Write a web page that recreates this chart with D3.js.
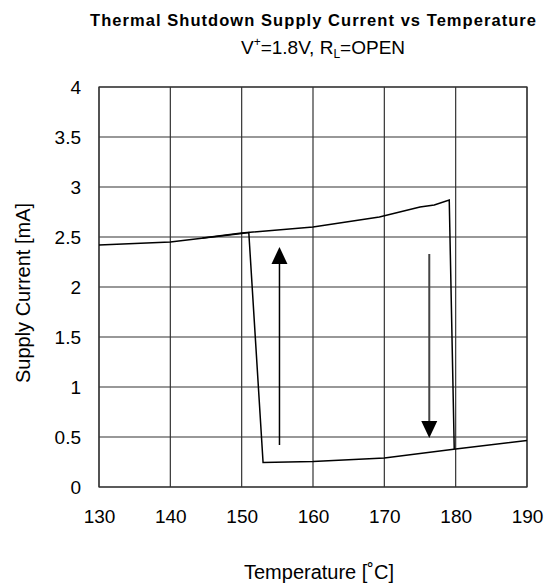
<!DOCTYPE html>
<html><head><meta charset="utf-8">
<script src="https://cdn.jsdelivr.net/npm/d3@7"></script>
<style>body{margin:0;background:#fff}svg{display:block}text{font-family:"Liberation Sans",Arial,sans-serif;fill:#000}</style>
</head><body><svg id="c" width="554" height="585"></svg>
<script>
const xTicks = [130,140,150,160,170,180,190];
const yTicks = [0,0.5,1,1.5,2,2.5,3,3.5,4];
const yTickLabels = ["0","0.5","1","1.5","2","2.5","3","3.5","4"];
// lower-left branch (cooling) and upper branch (heating)
const curveA_T = [130,140,150,151,153,160,170,180,190];
const curveA_I = [2.42,2.45,2.535,2.545,0.245,0.255,0.29,0.38,0.465];
const curveB_T = [144.5,150,160,169.3,175,177,179.1,179.8];
const curveB_I = [2.49,2.54,2.6,2.70,2.80,2.82,2.87,0.38];
const arrowUp = {t:155.3, from:0.42, to:2.4};
const arrowDown = {t:176.3, from:2.33, to:0.49};
const title = "Thermal Shutdown Supply Current vs Temperature";
const xTitle = "Temperature [˚C]";
const yTitle = "Supply Current [mA]";

const svg = d3.select("#c");
const m = {l:99, r:527, t:87, b:487};
const x = d3.scaleLinear().domain([130,190]).range([m.l,m.r]);
const y = d3.scaleLinear().domain([0,4]).range([m.b,m.t]);

// grid
const g = svg.append("g");
g.selectAll(".vx").data(xTicks).join("line")
  .attr("x1",d=>x(d)).attr("x2",d=>x(d)).attr("y1",m.t).attr("y2",m.b)
  .attr("stroke","#333").attr("stroke-width",1.2);
g.selectAll(".hy").data(yTicks).join("line")
  .attr("x1",m.l).attr("x2",m.r).attr("y1",d=>y(d)).attr("y2",d=>y(d))
  .attr("stroke","#333").attr("stroke-width",1.2);
g.append("rect").attr("x",m.l).attr("y",m.t).attr("width",m.r-m.l).attr("height",m.b-m.t)
  .attr("fill","none").attr("stroke","#333").attr("stroke-width",1.2);

// axes labels via d3 axes
const xAxis = svg.append("g").attr("transform",`translate(0,${m.b})`)
  .call(d3.axisBottom(x).tickValues(xTicks).tickSize(0).tickPadding(23).tickFormat(d3.format("d")));
xAxis.select(".domain").remove();
xAxis.selectAll("text").attr("font-size",19).attr("font-family","Liberation Sans, Arial, sans-serif").attr("fill","#000");
const yAxis = svg.append("g").attr("transform",`translate(${m.l},0)`)
  .call(d3.axisLeft(y).tickValues(yTicks).tickSize(0).tickPadding(18).tickFormat((d,i)=>yTickLabels[i]));
yAxis.select(".domain").remove();
yAxis.selectAll("text").attr("font-size",19).attr("font-family","Liberation Sans, Arial, sans-serif").attr("fill","#000");

// curves
const line = d3.line().x(d=>x(d[0])).y(d=>y(d[1]));
svg.append("path").datum(curveA_T.map((t,i)=>[t,curveA_I[i]]))
  .attr("d",line).attr("fill","none").attr("stroke","#000").attr("stroke-width",1.5);
svg.append("path").datum(curveB_T.map((t,i)=>[t,curveB_I[i]]))
  .attr("d",line).attr("fill","none").attr("stroke","#000").attr("stroke-width",1.5);

// arrows
function arrow(a, up, col, sw){
  const ax = x(a.t), y0 = y(a.from), y1 = y(a.to);
  const hl = 17, hw = 8;
  const dir = up ? 1 : -1;
  svg.append("line").attr("x1",ax).attr("x2",ax).attr("y1",y0).attr("y2",y1 + dir*hl)
    .attr("stroke",col).attr("stroke-width",sw);
  svg.append("path").attr("d",`M${ax},${y1} L${ax-hw},${y1+dir*hl} L${ax+hw},${y1+dir*hl} Z`).attr("fill","#000");
}
arrow(arrowUp, true, "#000", 1.5);
arrow(arrowDown, false, "#444", 2);

// titles
svg.append("text").attr("x",(m.l+m.r)/2).attr("y",26).attr("text-anchor","middle")
  .attr("font-size",16.5).attr("font-weight","bold").attr("textLength",446).attr("lengthAdjust","spacing").text(title);
const st = svg.append("text").attr("x",(m.l+m.r)/2 + 10).attr("y",54).attr("text-anchor","middle").attr("font-size",19);
st.append("tspan").text("V");
st.append("tspan").attr("font-size",12).attr("dy",-8).text("+");
st.append("tspan").attr("dy",8).text("=1.8V, R");
st.append("tspan").attr("font-size",12).attr("dy",4).text("L");
st.append("tspan").attr("dy",-4).text("=OPEN");
svg.append("text").attr("x",(m.l+m.r)/2+6).attr("y",579).attr("text-anchor","middle").attr("font-size",20).text(xTitle);
svg.append("text").attr("transform",`translate(30,${(m.t+m.b)/2+6}) rotate(-90)`).attr("text-anchor","middle").attr("font-size",20).text(yTitle);
</script></body></html>
